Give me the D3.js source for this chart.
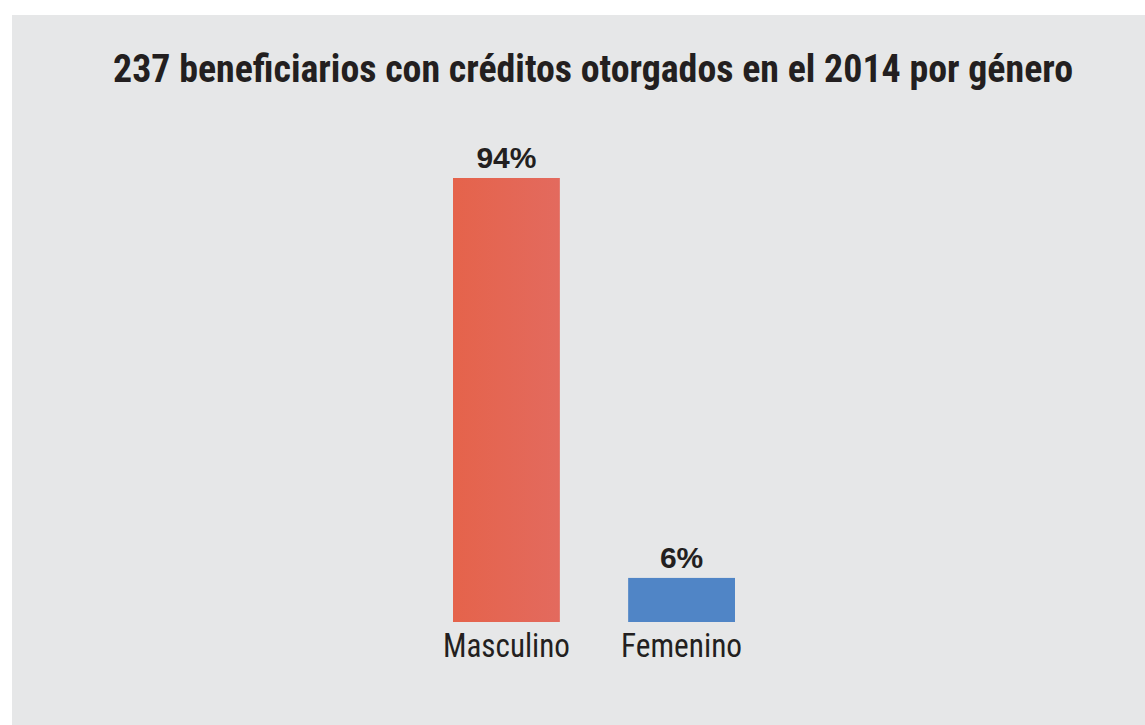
<!DOCTYPE html>
<html>
<head>
<meta charset="utf-8">
<script src="https://cdn.jsdelivr.net/npm/d3@7"></script>
<style>
  body { margin: 0; background: #fff; }
  svg { display: block; }
</style>
</head>
<body>
<script>
// Data
const categories = ["Masculino", "Femenino"];
const percents = [94, 6];
const barColors = ["url(#redGrad)", "#5085c6"];
const title = "237 beneficiarios con créditos otorgados en el 2014 por género";

const width = 1145;
const height = 725;

const svg = d3.select("body")
    .append("svg")
    .attr("width", width)
    .attr("height", height);

// Gray panel
svg.append("rect")
    .attr("x", 12)
    .attr("y", 15)
    .attr("width", width - 12)
    .attr("height", height - 15)
    .attr("fill", "#e6e7e8");

// Slight gradient on the red bar
const defs = svg.append("defs");
const grad = defs.append("linearGradient")
    .attr("id", "redGrad")
    .attr("x1", "0%").attr("x2", "100%");
grad.append("stop").attr("offset", "0%").attr("stop-color", "#e5634b");
grad.append("stop").attr("offset", "100%").attr("stop-color", "#e36a5e");

const condensed = "'Liberation Sans Narrow', 'Roboto Condensed', 'DejaVu Sans Condensed', sans-serif";

// Title
svg.append("text")
    .attr("x", 593)
    .attr("y", 82)
    .attr("text-anchor", "middle")
    .attr("font-family", condensed)
    .attr("font-weight", 700)
    .attr("font-size", 39)
    .attr("fill", "#231f20")
    .attr("textLength", 960)
    .attr("lengthAdjust", "spacingAndGlyphs")
    .text(title);

// Scales
const x = d3.scaleBand()
    .domain(categories)
    .range([453, 735])
    .paddingInner(0.39)
    .paddingOuter(0);

// the baseline sits a little below zero in the original
const y = d3.scaleLinear()
    .domain([-3.7, 94])
    .range([622, 178]);

const data = categories.map((c, i) => ({ cat: c, value: percents[i], color: barColors[i] }));

// Bars
svg.selectAll(".bar")
    .data(data)
    .enter()
    .append("rect")
    .attr("class", "bar")
    .attr("x", d => x(d.cat))
    .attr("y", d => y(d.value))
    .attr("width", x.bandwidth())
    .attr("height", d => y(-3.7) - y(d.value))
    .attr("fill", d => d.color);

// Value labels
svg.selectAll(".val")
    .data(data)
    .enter()
    .append("text")
    .attr("class", "val")
    .attr("x", d => x(d.cat) + x.bandwidth() / 2)
    .attr("y", d => y(d.value) - 10)
    .attr("text-anchor", "middle")
    .attr("font-family", "'Liberation Sans', Arial, sans-serif")
    .attr("font-weight", 700)
    .attr("font-size", 30)
    .attr("fill", "#231f20")
    .text(d => d.value + "%");

// Category labels (condensed, squeezed to the original widths)
const labelWidths = [127, 121];
svg.selectAll(".cat")
    .data(data)
    .enter()
    .append("text")
    .attr("class", "cat")
    .attr("x", d => x(d.cat) + x.bandwidth() / 2)
    .attr("y", 657)
    .attr("text-anchor", "middle")
    .attr("font-family", condensed)
    .attr("font-size", 34)
    .attr("fill", "#231f20")
    .attr("textLength", (d, i) => labelWidths[i])
    .attr("lengthAdjust", "spacingAndGlyphs")
    .text(d => d.cat);
</script>
</body>
</html>
